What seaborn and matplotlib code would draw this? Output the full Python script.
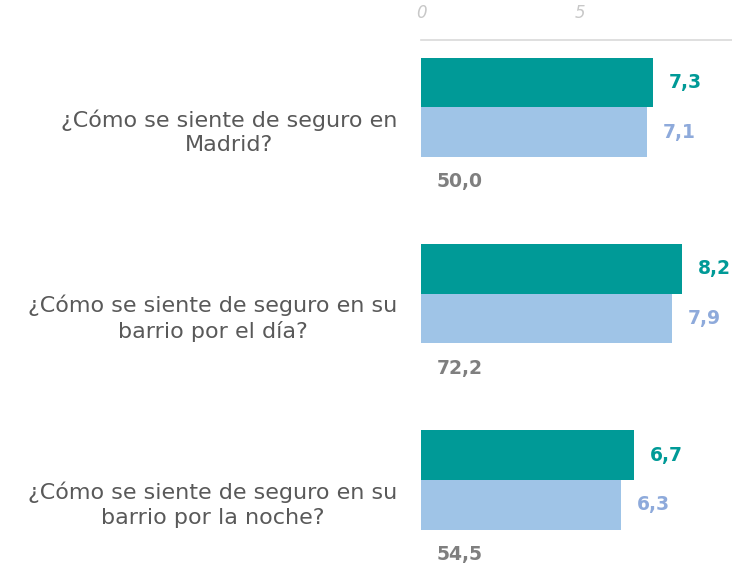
import pandas as pd
import matplotlib.pyplot as plt
import seaborn as sns

# preguntas y valores
preguntas = [
    "¿Cómo se siente de seguro en\nMadrid?",
    "¿Cómo se siente de seguro en su\nbarrio por el día?",
    "¿Cómo se siente de seguro en su\nbarrio por la noche?",
]
serie_a = [7.3, 8.2, 6.7]
serie_b = [7.1, 7.9, 6.3]
serie_c = [50.0, 72.2, 54.5]   # solo se muestra como etiqueta
series = ["A", "B", "C"]
colores = ["#009a97", "#9fc4e7", "#ffffff"]
colores_txt = ["#009a97", "#8eaadb", "#7f7f7f"]

filas = []
for i, p in enumerate(preguntas):
    filas.append({"pregunta": p, "serie": "A", "valor": serie_a[i]})
    filas.append({"pregunta": p, "serie": "B", "valor": serie_b[i]})
    filas.append({"pregunta": p, "serie": "C", "valor": 0})
df = pd.DataFrame(filas)

sns.set_style("white")
plt.rcParams['font.family'] = ['DejaVu Sans']

fig = plt.figure(figsize=(7.32, 5.71), dpi=100)
ax = fig.add_axes([421 / 732, 0, 1 - 421 / 732, 1 - 40 / 571])

sns.barplot(data=df, x="valor", y="pregunta", hue="serie", hue_order=series,
            palette=colores, saturation=1, orient="h", width=0.8, ax=ax,
            legend=False, linewidth=0)

etiquetas = [serie_a, serie_b, serie_c]
for cont, vals, col in zip(ax.containers, etiquetas, colores_txt):
    ax.bar_label(cont, labels=[f"{v:.1f}".replace(".", ",") for v in vals],
                 padding=11.5, color=col, fontweight="bold", fontsize=13.5)

ax.set_xlim(0, 311 / 31.8)
ax.set_ylim(2.355, -0.495)
ax.xaxis.tick_top()
ax.set_xticks([0, 5])
ax.set_xticklabels(["0", "5"], fontstyle="italic", color="#c8c8c8", fontsize=12)
ax.tick_params(axis="x", length=0, pad=13)
ax.tick_params(axis="y", length=0, pad=17, labelsize=16, labelcolor="#595959")
for lab in ax.get_yticklabels():
    lab.set_multialignment("center")
    lab.set_linespacing(1.3)
    lab.set_verticalalignment("center")
ax.set_xlabel("")
ax.set_ylabel("")
for s in ["left", "right", "bottom"]:
    ax.spines[s].set_visible(False)
ax.spines["top"].set_color("#d9d9d9")
ax.spines["top"].set_linewidth(1.2)

fig.savefig("out.png", dpi=100)
